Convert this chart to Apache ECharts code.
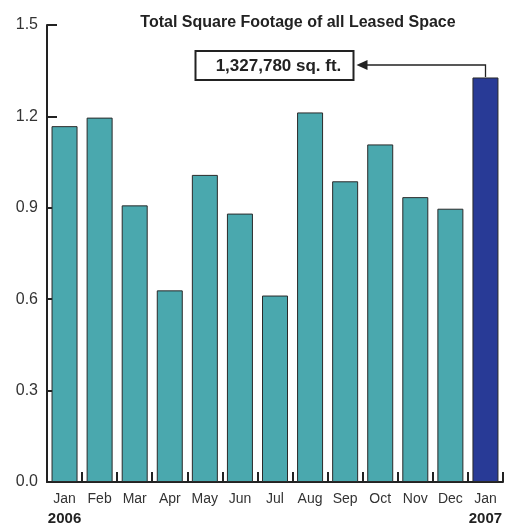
<!DOCTYPE html>
<html>
<head>
<meta charset="utf-8">
<script src="https://cdn.jsdelivr.net/npm/echarts@6/dist/echarts.min.js"></script>
<style>html,body{margin:0;padding:0;background:#fff}#c{width:514px;height:529px}</style>
</head>
<body>
<div id="c"></div>
<script>
var categories = ['Jan','Feb','Mar','Apr','May','Jun','Jul','Aug','Sep','Oct','Nov','Dec','Jan'];
var yearLabels = ['2006','','','','','','','','','','','','2007'];
var values = [1.168, 1.196, 0.908, 0.629, 1.008, 0.881, 0.612, 1.213, 0.987, 1.108, 0.935, 0.897, 1.32778];
var highlightIndex = 12;
var highlightSqFt = 1327780;
var yTicks = [0.0, 0.3, 0.6, 0.9, 1.2, 1.5];
var titleText = 'Total Square Footage of all Leased Space';

var teal = '#4AA8AE', navy = '#283A96', ink = '#222';
var chart = echarts.init(document.getElementById('c'), null, {renderer:'canvas'});
var data = values.map(function(v,i){
  return {value:v, itemStyle:{color: i===highlightIndex ? navy : teal}};
});
chart.setOption({
  animation:false,
  backgroundColor:'#fff',
  title:{text:titleText, left:293, top:10, textAlign:'center',
    textStyle:{fontFamily:'Liberation Sans', fontWeight:'bold', fontSize:16, color:ink}},
  grid:{left:47, right:11, top:25, bottom:47, containLabel:false},
  xAxis:{type:'category', data:categories, boundaryGap:true,
    axisLine:{lineStyle:{color:ink, width:2}},
    axisTick:{show:true, inside:true, length:10, lineStyle:{color:ink, width:2}},
    axisLabel:{margin:7, interval:0,
      formatter:function(v,i){ return yearLabels[i] ? '{m|'+v+'}\n{y|'+yearLabels[i]+'}' : '{m|'+v+'}'; },
      rich:{
        m:{fontFamily:'Liberation Sans', fontSize:14, color:'#333', lineHeight:20, align:'center'},
        y:{fontFamily:'Liberation Sans', fontWeight:'bold', fontSize:15, color:ink, lineHeight:19, align:'center'}
      }}
  },
  yAxis:{type:'value', min:yTicks[0], max:yTicks[yTicks.length-1], interval:0.3,
    axisLine:{show:true, lineStyle:{color:ink, width:2}},
    axisTick:{show:true, inside:true, length:10, lineStyle:{color:ink, width:2}},
    splitLine:{show:false},
    axisLabel:{margin:9, fontFamily:'Liberation Sans', fontSize:16, color:'#333',
      formatter:function(v){ return v.toFixed(1); }}
  },
  series:[{type:'bar', data:data, barWidth:26, z:3,
    itemStyle:{borderColor:'#2a2a2a', borderWidth:1}}]
});

var barTop = chart.convertToPixel({gridIndex:0}, [highlightIndex, values[highlightIndex]]);
var bx = Math.round(barTop[0]) + 0.5, by = Math.round(barTop[1]);
var lineY = by - 12;
var boxRight = bx - 132, boxLeft = boxRight - 158;
chart.setOption({graphic:[
  {type:'polyline', shape:{points:[[bx, by],[bx, lineY],[boxRight+12, lineY]]},
    style:{stroke:ink, lineWidth:1.3, fill:null}, z:10},
  {type:'polygon', shape:{points:[[boxRight+3, lineY],[boxRight+14, lineY-5],[boxRight+14, lineY+5]]},
    style:{fill:ink}, z:10},
  {type:'rect', shape:{x:boxLeft, y:lineY-14, width:158, height:29},
    style:{fill:'#fff', stroke:ink, lineWidth:2}, z:10},
  {type:'text', x:(boxLeft+boxRight)/2+4, y:lineY+1,
    style:{text: highlightSqFt.toLocaleString('en-US') + ' sq. ft.', align:'center', verticalAlign:'middle',
      font:'bold 17px "Liberation Sans"', fill:ink}, z:11}
]});
</script>
</body>
</html>
